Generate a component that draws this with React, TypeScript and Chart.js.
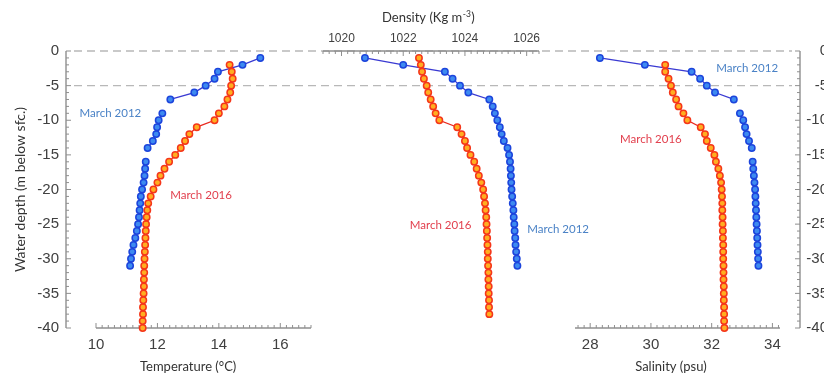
import React, { useEffect, useRef } from 'react';
import { Chart, registerables } from 'chart.js';

Chart.register(...registerables);

const W = 824;
const H = 376;
const AREA_TOP = 51;
const AREA_BOTTOM = 328;

// ---------- data ----------
const depth2012 = [-1, -2, -3, -4, -5, -6, -7, -8, -9, -10, -11, -12, -13, -14, -15, -16, -17, -18, -19, -20, -21, -22, -23, -24, -25, -26, -27, -28, -29, -30, -31];
const depth2016 = [-2, -3, -4, -5, -6, -7, -8, -9, -10, -11, -12, -13, -14, -15, -16, -17, -18, -19, -20, -21, -22, -23, -24, -25, -26, -27, -28, -29, -30, -31, -32, -33, -34, -35, -36, -37, -38, -39, -40];
const depth2016Dens = [-1, -2, -3, -4, -5, -6, -7, -8, -9, -10, -11, -12, -13, -14, -15, -16, -17, -18, -19, -20, -21, -22, -23, -24, -25, -26, -27, -28, -29, -30, -31, -32, -33, -34, -35, -36, -37, -38];

const temp2012 = [15.35, 14.77, 13.97, 13.86, 13.57, 13.2, 12.42, null, 12.16, 12.04, 11.99, 11.96, 11.85, 11.68, null, 11.62, 11.6, 11.58, 11.55, 11.5, 11.46, 11.44, 11.42, 11.4, 11.37, 11.33, 11.28, 11.22, 11.18, 11.14, 11.11];
const temp2016 = [14.35, 14.42, 14.45, 14.4, 14.37, 14.28, 14.18, 14.0, 13.86, 13.28, 13.04, 12.9, 12.76, 12.58, 12.38, 12.23, 12.1, 12.0, 11.87, 11.78, 11.7, 11.67, 11.65, 11.63, 11.62, 11.61, 11.6, 11.59, 11.58, 11.57, 11.57, 11.56, 11.56, 11.55, 11.54, 11.53, 11.53, 11.52, 11.52];

const dens2012 = [1020.76, 1022.0, 1023.35, 1023.6, 1023.84, 1024.11, 1024.79, 1024.9, 1024.97, 1025.05, 1025.13, 1025.19, 1025.26, 1025.38, 1025.43, 1025.46, 1025.48, 1025.49, 1025.5, 1025.51, 1025.53, 1025.55, 1025.57, 1025.58, 1025.6, 1025.61, 1025.63, 1025.64, 1025.66, 1025.68, 1025.7];
const dens2016 = [1022.51, 1022.57, 1022.61, 1022.67, 1022.76, 1022.81, 1022.89, 1022.97, 1023.05, 1023.17, 1023.75, 1023.89, 1024.0, 1024.07, 1024.18, 1024.3, 1024.38, 1024.45, 1024.53, 1024.59, 1024.62, 1024.65, 1024.67, 1024.69, 1024.7, 1024.71, 1024.72, 1024.73, 1024.74, 1024.74, 1024.75, 1024.76, 1024.76, 1024.77, 1024.77, 1024.78, 1024.78, 1024.79];

const sal2012 = [28.32, 29.8, 31.34, 31.62, 31.84, 32.11, 32.73, null, 32.93, 33.04, 33.1, 33.15, 33.23, 33.32, null, 33.35, 33.37, 33.39, 33.41, 33.43, 33.44, 33.45, 33.46, 33.47, 33.48, 33.49, 33.5, 33.51, 33.52, 33.53, 33.54];
const sal2016 = [30.47, 30.47, 30.58, 30.66, 30.72, 30.83, 30.91, 31.07, 31.2, 31.64, 31.78, 31.84, 31.97, 32.09, 32.14, 32.22, 32.27, 32.31, 32.33, 32.34, 32.35, 32.35, 32.36, 32.36, 32.37, 32.37, 32.38, 32.38, 32.38, 32.39, 32.39, 32.39, 32.4, 32.4, 32.4, 32.41, 32.41, 32.41, 32.42];

const depthTicks = [0, -5, -10, -15, -20, -25, -30, -35, -40];
const tempTicks = [10, 12, 14, 16];
const densTicks = [1020, 1022, 1024, 1026];
const salTicks = [28, 30, 32, 34];
const refDepths = [0, -5];

const depthRange = [-40, 0];
const tempRange = [10, 17];
const densRange = [1019.4, 1026.4];
const salRange = [27.5, 34.25];

const label2012 = 'March 2012';
const label2016 = 'March 2016';

// ---------- styles ----------
const AXIS = '#8f8f8f';
const TICK_TEXT = '#404040';
const TICK_FONT = "'Liberation Sans', Arial, sans-serif";
const TEXT_FONT = "Lato, 'Open Sans', sans-serif";
const C2012 = { line: '#3a3ad2', fill: '#3d8af0', border: '#1c44dc', text: '#4a82c6' };
const C2016 = { line: '#e8281e', fill: '#ffae20', border: '#f5361a', text: '#e2404e' };

const plainLabel = (v: any) => String(v);

function series(xs: (number | null)[], ds: number[], c: typeof C2012) {
  return {
    data: xs.map((x, i) => ({ x, y: ds[i] })),
    borderColor: c.line,
    borderWidth: 1.3,
    pointRadius: 3.2,
    pointHoverRadius: 3.2,
    pointBorderWidth: 1.5,
    pointBackgroundColor: c.fill,
    pointBorderColor: c.border,
    tension: 0,
    fill: false,
    spanGaps: false,
    clip: false as const,
  };
}

const decorPlugin = {
  id: 'decor',
  beforeDatasetsDraw(chart: any, _a: any, o: any) {
    const ctx = chart.ctx;
    const ca = chart.chartArea;
    ctx.save();
    if (o.refLines) {
      const ys = chart.scales.y;
      ctx.strokeStyle = '#b8b8b8';
      ctx.lineWidth = 1.3;
      ctx.setLineDash([8, 5]);
      for (const v of o.refLines) {
        const py = ys.getPixelForValue(v);
        ctx.beginPath();
        ctx.moveTo(ca.left + 8, py);
        ctx.lineTo(ca.right - 8, py);
        ctx.stroke();
      }
      ctx.setLineDash([]);
    }
    ctx.strokeStyle = AXIS;
    for (const ax of o.axes || []) {
      const s = chart.scales[ax.scale];
      const n0 = Math.ceil(s.min / ax.step - 1e-6);
      const n1 = Math.floor(s.max / ax.step + 1e-6);
      ctx.lineWidth = 1.4;
      ctx.beginPath();
      if (ax.side === 'bottom' || ax.side === 'top') {
        const y0 = ax.side === 'bottom' ? ca.bottom : ca.top;
        ctx.moveTo(ca.left, y0);
        ctx.lineTo(ca.right, y0);
      } else {
        const x0 = ax.side === 'left' ? ca.left : ca.right;
        ctx.moveTo(x0, ca.top);
        ctx.lineTo(x0, ca.bottom);
      }
      ctx.stroke();
      ctx.lineWidth = 1;
      ctx.beginPath();
      for (let n = n0; n <= n1; n++) {
        const v = n * ax.step;
        const r = v / ax.major;
        const major = Math.abs(r - Math.round(r)) < 1e-6;
        const len = major ? 5 : 3;
        const p = s.getPixelForValue(v);
        if (ax.side === 'bottom') { ctx.moveTo(p, ca.bottom); ctx.lineTo(p, ca.bottom - len); }
        else if (ax.side === 'top') { ctx.moveTo(p, ca.top); ctx.lineTo(p, ca.top + len); }
        else if (ax.side === 'left') { ctx.moveTo(ca.left, p); ctx.lineTo(ca.left + len, p); }
        else { ctx.moveTo(ca.right, p); ctx.lineTo(ca.right - len, p); }
      }
      ctx.stroke();
    }
    ctx.restore();
  },
  afterDatasetsDraw(chart: any, _a: any, o: any) {
    const ctx = chart.ctx;
    ctx.save();
    const xs = chart.scales.x;
    const ys = chart.scales.y;
    for (const n of o.notes || []) {
      ctx.font = `11.5px ${TEXT_FONT}`;
      ctx.fillStyle = n.color;
      ctx.textAlign = 'center';
      ctx.textBaseline = 'middle';
      ctx.fillText(n.text, xs.getPixelForValue(n.x), ys.getPixelForValue(n.y));
    }
    if (o.title) {
      const t = o.title;
      const cx = xs.getPixelForValue(t.at);
      ctx.fillStyle = '#333333';
      ctx.textBaseline = 'middle';
      ctx.textAlign = 'left';
      const main = `13px ${TEXT_FONT}`;
      const small = `8.5px ${TEXT_FONT}`;
      ctx.font = main;
      const w1 = ctx.measureText(t.text).width;
      let w2 = 0;
      let w3 = 0;
      if (t.sup) {
        ctx.font = small;
        w2 = ctx.measureText(t.sup).width;
        ctx.font = main;
        w3 = ctx.measureText(t.after).width;
      }
      let x = cx - (w1 + w2 + w3) / 2;
      ctx.font = main;
      ctx.fillText(t.text, x, t.y);
      if (t.sup) {
        x += w1;
        ctx.font = small;
        ctx.fillText(t.sup, x + 0.5, t.y - 4);
        x += w2 + 1;
        ctx.font = main;
        ctx.fillText(t.after, x, t.y);
      }
    }
    ctx.restore();
  },
};

function fixedTicks(values: number[]) {
  return (s: any) => {
    s.ticks = values.map((v) => ({ value: v }));
  };
}

function baseConfig(): any {
  const yCommon = {
    type: 'linear',
    min: depthRange[0],
    max: depthRange[1],
    afterBuildTicks: fixedTicks(depthTicks),
    grid: { display: false, drawTicks: false },
    border: { display: false },
  };
  return {
    type: 'line',
    data: { datasets: [] },
    plugins: [decorPlugin],
    options: {
      responsive: false,
      animation: false,
      devicePixelRatio: 1,
      events: [],
      layout: { padding: { left: 0, right: -4, top: AREA_TOP, bottom: H - AREA_BOTTOM } },
      plugins: {
        legend: { display: false },
        tooltip: { enabled: false },
        decor: {
          refLines: refDepths,
          axes: [
            { scale: 'y', side: 'left', step: 1, major: 5 },
            { scale: 'y2', side: 'right', step: 1, major: 5 },
          ],
        },
      },
      scales: {
        x: { type: 'linear', min: 0, max: 1, display: false },
        y: {
          ...yCommon,
          position: 'left',
          afterFit: (s: any) => { s.width = 66; },
          ticks: { color: TICK_TEXT, font: { family: TICK_FONT, size: 15 }, padding: 7, callback: plainLabel },
          title: {
            display: true,
            text: 'Water depth (m below sfc.)',
            color: '#333333',
            font: { family: TEXT_FONT, size: 14 },
            padding: { top: 12, bottom: 0 },
          },
        },
        y2: {
          ...yCommon,
          position: 'right',
          afterFit: (s: any) => { s.width = 28; },
          ticks: { color: TICK_TEXT, font: { family: TICK_FONT, size: 15 }, padding: 6, crossAlign: 'far', callback: plainLabel },
        },
      },
    },
  };
}

function panelConfig(p: any): any {
  const bottom = p.side === 'bottom';
  return {
    type: 'line',
    data: { datasets: p.datasets },
    plugins: [decorPlugin],
    options: {
      responsive: false,
      animation: false,
      devicePixelRatio: 1,
      events: [],
      layout: {
        padding: bottom
          ? { left: p.left, right: W - p.right, top: AREA_TOP, bottom: 0 }
          : { left: p.left, right: W - p.right, top: 0, bottom: H - AREA_BOTTOM },
      },
      plugins: {
        legend: { display: false },
        tooltip: { enabled: false },
        decor: {
          axes: [{ scale: 'x', side: p.side, step: 0.2, major: 2 }],
          notes: p.notes,
          title: p.title,
        },
      },
      scales: {
        x: {
          type: 'linear',
          position: p.side,
          min: p.range[0],
          max: p.range[1],
          afterBuildTicks: fixedTicks(p.ticks),
          afterFit: (s: any) => { s.height = bottom ? H - AREA_BOTTOM : AREA_TOP; },
          grid: { display: false, drawTicks: false },
          border: { display: false },
          ticks: {
            color: TICK_TEXT,
            font: { family: TICK_FONT, size: p.fontSize },
            padding: bottom ? 8 : 5,
            maxRotation: 0,
            autoSkip: false,
            callback: plainLabel,
          },
        },
        y: { type: 'linear', min: depthRange[0], max: depthRange[1], display: false },
      },
    },
  };
}

export default function App() {
  const baseRef = useRef<HTMLCanvasElement>(null);
  const tRef = useRef<HTMLCanvasElement>(null);
  const dRef = useRef<HTMLCanvasElement>(null);
  const sRef = useRef<HTMLCanvasElement>(null);

  useEffect(() => {
    document.body.style.margin = '0';
    const charts = [
      new Chart(baseRef.current!, baseConfig()),
      new Chart(
        tRef.current!,
        panelConfig({
          side: 'bottom',
          left: 96,
          right: 311,
          range: tempRange,
          ticks: tempTicks,
          fontSize: 15,
          datasets: [series(temp2016, depth2016, C2016), series(temp2012, depth2012, C2012)],
          notes: [
            { text: label2012, x: 10.47, y: -9.0, color: C2012.text },
            { text: label2016, x: 13.42, y: -20.8, color: C2016.text },
          ],
          title: { text: 'Temperature (°C)', at: 13, y: 367 },
        })
      ),
      new Chart(
        dRef.current!,
        panelConfig({
          side: 'top',
          left: 323,
          right: 539,
          range: densRange,
          ticks: densTicks,
          fontSize: 12,
          datasets: [series(dens2016, depth2016Dens, C2016), series(dens2012, depth2012, C2012)],
          notes: [
            { text: label2016, x: 1023.21, y: -25.2, color: C2016.text },
            { text: label2012, x: 1027.02, y: -25.7, color: C2012.text },
          ],
          title: { text: 'Density (Kg m', sup: '-3', after: ')', at: 1022.8, y: 18 },
        })
      ),
      new Chart(
        sRef.current!,
        panelConfig({
          side: 'bottom',
          left: 575,
          right: 780,
          range: salRange,
          ticks: salTicks,
          fontSize: 15,
          datasets: [series(sal2016, depth2016, C2016), series(sal2012, depth2012, C2012)],
          notes: [
            { text: label2012, x: 33.17, y: -2.5, color: C2012.text },
            { text: label2016, x: 30.0, y: -12.75, color: C2016.text },
          ],
          title: { text: 'Salinity (psu)', at: 30.66, y: 367 },
        })
      ),
    ];
    return () => charts.forEach((c) => c.destroy());
  }, []);

  const cs: React.CSSProperties = { position: 'absolute', left: 0, top: 0, width: W, height: H };
  return (
    <div style={{ position: 'relative', width: W, height: H, background: '#ffffff', overflow: 'hidden' }}>
      <canvas ref={baseRef} width={W} height={H} style={cs} />
      <canvas ref={tRef} width={W} height={H} style={cs} />
      <canvas ref={dRef} width={W} height={H} style={cs} />
      <canvas ref={sRef} width={W} height={H} style={cs} />
    </div>
  );
}
